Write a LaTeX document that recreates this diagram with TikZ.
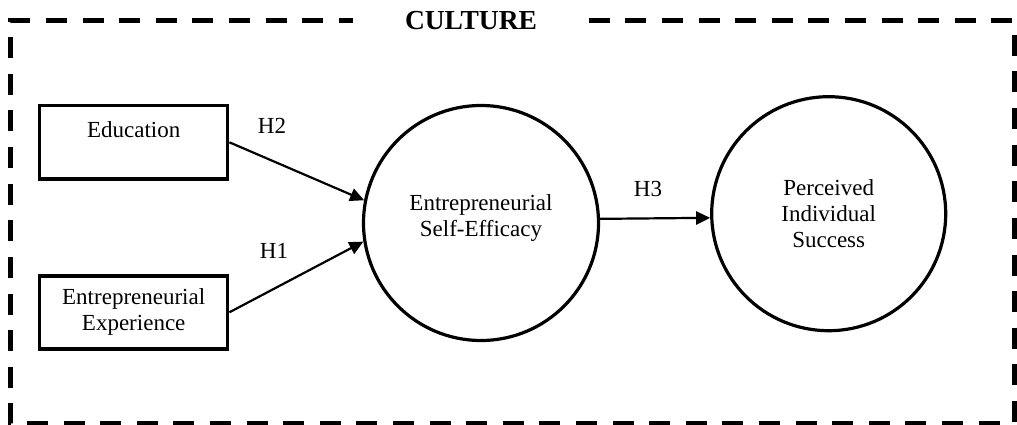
\documentclass[tikz,border=0pt]{standalone}
\usepackage{fontspec}
\setmainfont{Liberation Serif}
\usetikzlibrary{arrows.meta}
\begin{document}
\begin{tikzpicture}[x=1pt,y=-1pt,
  txt/.style={font=\fontsize{23}{26}\selectfont},
  varbox/.style={draw, line width=3.4pt, minimum width=188pt, minimum height=73pt,
    inner sep=0pt, align=center, txt},
  construct/.style={draw, circle, line width=3.2pt, inner sep=0pt, align=center, txt},
  link/.style={line width=2.2pt, -{Triangle[length=14pt,width=13pt]}},
  hyp/.style={txt, anchor=base, inner sep=0pt},
  frame/.style={line width=5pt, dash pattern=on 21pt off 15.6pt}
]
\useasboundingbox (0,0) rectangle (1017,425);

% title breaking the dashed culture frame
\node[font=\fontsize{27.5}{30}\selectfont\bfseries,
      minimum width=235pt, inner ysep=3pt] (culture) at (471,21) {CULTURE};
\draw[frame] (culture.east) -- (1014,21) -- (1014,423) -- (10,423) -- (10,21)
  -- (culture.west);

% variables
\node[varbox, text height=32pt, text depth=41pt, inner ysep=0pt]
  (edu) at (133.7,142.3) {Education};
\node[varbox] (exp) at (133.7,312.3) {Entrepreneurial\\Experience};
\node[construct, minimum size=235pt] (ese) at (481,223)
  {\raisebox{5pt}[\height][\depth]{\begin{tabular}{@{}c@{}}Entrepreneurial\\Self-Efficacy\end{tabular}}};
\node[construct, minimum size=234pt] (pis) at (828.7,213.7)
  {Perceived\\Individual\\Success};

% hypothesised paths
\draw[link] (edu.east) -- (ese.169);
\draw[link] (exp.east) -- (ese.189);
\draw[link] (ese.2) -- (pis.182);

\node[hyp] (h2) at (272,134) {H2};
\node[hyp] (h1) at (274,258) {H1};
\node[hyp] (h3) at (648,196) {H3};
\end{tikzpicture}
\end{document}
